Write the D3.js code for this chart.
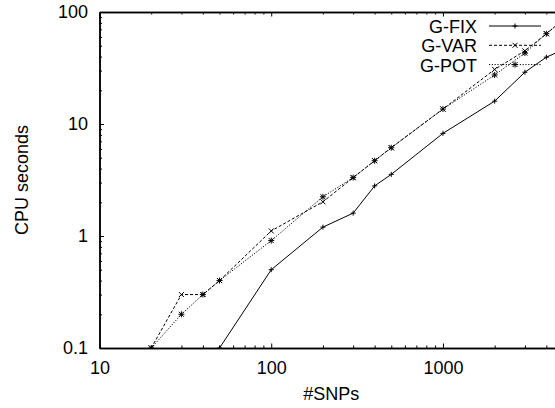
<!DOCTYPE html>
<html>
<head>
<meta charset="utf-8">
<script src="https://cdn.jsdelivr.net/npm/d3@7"></script>
<style>
  html, body { margin: 0; padding: 0; background: #fff; }
  svg { display: block; }
  text { font-family: "Liberation Sans", Arial, Helvetica, sans-serif; font-size: 18px; fill: #000; }
</style>
</head>
<body>
<div id="canvas"></div>
<script>
// data (null = not plotted)
var snps = [20, 30, 40, 50, 100, 200, 300, 400, 500, 1000, 2000, 3000, 4000, 5000];
var gFix = [null, null, null, 0.1, 0.5, 1.2, 1.6, 2.8, 3.55, 8.25, 16, 29, 39.5, 46];
var gVar = [0.1, 0.3, 0.3, 0.4, 1.11, 2.02, 3.32, 4.7, 6.14, 13.6, 30.7, 45, 64, 85];
var gPot = [0.1, 0.2, 0.3, 0.4, 0.91, 2.24, 3.32, 4.7, 6.14, 13.6, 27.4, 43, 64, 85];
var seriesNames = ['G-FIX', 'G-VAR', 'G-POT'];
var xMajor = [10, 100, 1000];
var yMajor = [0.1, 1, 10, 100];

document.addEventListener('DOMContentLoaded', function() {
	var width = 555, height = 408,
		left = 99.5, right = 563, top = 12, bottom = 348;

	var svg = d3.select('#canvas').append('svg')
		.attr('width', width)
		.attr('height', height);

	var x = d3.scaleLog().domain([10, 5000]).range([left, right]),
		y = d3.scaleLog().domain([0.1, 100]).range([bottom, top]);

	svg.append('clipPath').attr('id', 'plot-clip')
		.append('rect')
		.attr('x', left).attr('y', top - 1)
		.attr('width', right - left).attr('height', bottom - top + 2);

	var xMinor = x.ticks().filter(function(d) { return xMajor.indexOf(d) < 0; }),
		yMinor = y.ticks().filter(function(d) { return yMajor.indexOf(d) < 0 && d >= 0.1; });
	var fmt = d3.format('~g');

	function styleAxis(g) {
		g.select('.domain').attr('stroke-width', 1.5);
		g.selectAll('.tick line').attr('stroke-width', 1);
		g.selectAll('text').attr('font-size', null).attr('font-family', null).attr('fill', '#000');
	}

	// bottom axis
	svg.append('g').attr('transform', 'translate(0,' + bottom + ')')
		.call(d3.axisBottom(x).tickValues(xMajor).tickFormat(fmt).tickSizeInner(-4.5).tickSizeOuter(0).tickPadding(13))
		.call(styleAxis);
	svg.append('g').attr('transform', 'translate(0,' + bottom + ')')
		.call(d3.axisBottom(x).tickValues(xMinor).tickFormat('').tickSizeInner(-2.5).tickSizeOuter(0))
		.call(styleAxis);
	// top axis (mirror)
	svg.append('g').attr('transform', 'translate(0,' + top + ')')
		.call(d3.axisTop(x).tickValues(xMajor).tickFormat('').tickSizeInner(-4.5).tickSizeOuter(0))
		.call(styleAxis);
	svg.append('g').attr('transform', 'translate(0,' + top + ')')
		.call(d3.axisTop(x).tickValues(xMinor).tickFormat('').tickSizeInner(-2.5).tickSizeOuter(0))
		.call(styleAxis);
	// left axis
	svg.append('g').attr('transform', 'translate(' + left + ',0)')
		.call(d3.axisLeft(y).tickValues(yMajor).tickFormat(fmt).tickSizeInner(-4.5).tickSizeOuter(0).tickPadding(11.5))
		.call(styleAxis);
	svg.append('g').attr('transform', 'translate(' + left + ',0)')
		.call(d3.axisLeft(y).tickValues(yMinor).tickFormat('').tickSizeInner(-2.5).tickSizeOuter(0))
		.call(styleAxis);

	// axis titles
	svg.append('text')
		.attr('x', (left + right) / 2).attr('y', 400)
		.attr('text-anchor', 'middle')
		.text('#SNPs');
	svg.append('text')
		.attr('transform', 'translate(27.5,' + ((top + bottom) / 2) + ') rotate(-90)')
		.attr('text-anchor', 'middle')
		.text('CPU seconds');

	// markers
	function plus(g, px, py, r) {
		g.append('path').attr('d', 'M' + (px - r) + ',' + py + 'H' + (px + r) + 'M' + px + ',' + (py - r) + 'V' + (py + r));
	}
	function cross(g, px, py, r) {
		g.append('path').attr('d', 'M' + (px - r) + ',' + (py - r) + 'L' + (px + r) + ',' + (py + r) + 'M' + (px - r) + ',' + (py + r) + 'L' + (px + r) + ',' + (py - r));
	}
	var markers = [
		function(g, px, py) { plus(g, px, py, 2.5); },
		function(g, px, py) { cross(g, px, py, 2.5); },
		function(g, px, py) { plus(g, px, py, 3); cross(g, px, py, 2.5); }
	];
	var dashes = [null, '3,2', '1.2,1.6'];
	var series = [gFix, gVar, gPot];

	var line = d3.line()
		.defined(function(d) { return d[1] != null; })
		.x(function(d) { return x(d[0]); })
		.y(function(d) { return y(d[1]); });

	var plot = svg.append('g').attr('clip-path', 'url(#plot-clip)');

	series.forEach(function(vals, i) {
		var pts = snps.map(function(s, j) { return [s, vals[j]]; });
		plot.append('path')
			.datum(pts)
			.attr('d', line)
			.attr('fill', 'none')
			.attr('stroke', '#000')
			.attr('stroke-width', 1)
			.attr('stroke-dasharray', dashes[i]);
		var mg = plot.append('g').attr('stroke', '#000').attr('stroke-width', 1).attr('fill', 'none');
		pts.forEach(function(p) {
			if (p[1] == null) return;
			markers[i](mg, x(p[0]), y(p[1]));
		});
	});

	// legend
	var legendY = [26, 45.3, 64.6];
	seriesNames.forEach(function(name, i) {
		var ly = legendY[i];
		svg.append('text')
			.attr('x', 477).attr('y', ly + 7)
			.attr('text-anchor', 'end')
			.text(name);
		svg.append('line')
			.attr('x1', 489).attr('x2', 541)
			.attr('y1', ly).attr('y2', ly)
			.attr('stroke', '#000').attr('stroke-width', 1)
			.attr('stroke-dasharray', dashes[i]);
		var mg = svg.append('g').attr('stroke', '#000').attr('stroke-width', 1).attr('fill', 'none');
		markers[i](mg, 515, ly);
	});
});
</script>
</body>
</html>
